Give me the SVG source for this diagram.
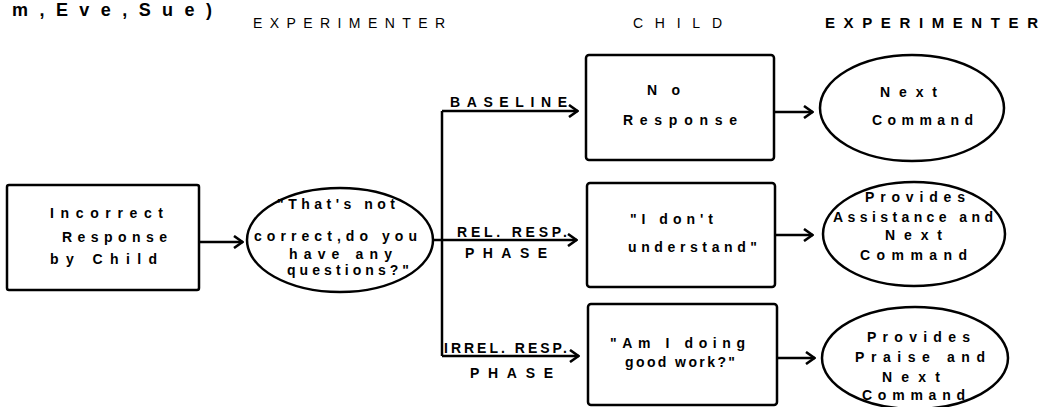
<svg xmlns="http://www.w3.org/2000/svg" width="1040" height="407" viewBox="0 0 1040 407">
<style>
text{font-family:"Liberation Sans",Arial,sans-serif;font-weight:bold;font-size:14px;fill:#000}
.hdr{font-size:14px;font-weight:normal}
.hdrb{font-size:15px}
.big{font-size:18px}
.sh{fill:#fff;stroke:#000;stroke-width:2.5}
.c{fill:none;stroke:#000;stroke-width:2.5}
</style>
<defs>
<marker id="ah" markerUnits="userSpaceOnUse" markerWidth="12" markerHeight="14" viewBox="0 0 12 14" refX="11" refY="7" orient="auto">
<path d="M2,1 L10.5,7 L2,13" fill="none" stroke="#000" stroke-width="2.6"/>
</marker>
</defs>
<rect width="1040" height="407" fill="#fff"/>
<text class="big" x="12" y="16" textLength="200" lengthAdjust="spacing">m,Eve,Sue)</text>
<text class="hdr" x="253" y="28" textLength="192" lengthAdjust="spacing">EXPERIMENTER</text>
<text class="hdr" x="633" y="28" textLength="89" lengthAdjust="spacing">CHILD</text>
<text class="hdrb" x="825" y="28" textLength="213" lengthAdjust="spacing">EXPERIMENTER</text>
<g id="connectors">
<path class="c" d="M199,242 H243" marker-end="url(#ah)"/>
<path class="c" d="M442,111 V356"/>
<path class="c" d="M442,111 H578" marker-end="url(#ah)"/>
<path class="c" d="M433,240 H577" marker-end="url(#ah)"/>
<path class="c" d="M442,356 H579" marker-end="url(#ah)"/>
<path class="c" d="M774,112 H813" marker-end="url(#ah)"/>
<path class="c" d="M775,235 H813" marker-end="url(#ah)"/>
<path class="c" d="M777,358 H815" marker-end="url(#ah)"/>
<text x="450" y="107" textLength="117" lengthAdjust="spacing">BASELINE</text>
<text x="457" y="237" textLength="110" lengthAdjust="spacing">REL. RESP.</text>
<text x="465" y="258" textLength="82" lengthAdjust="spacing">PHASE</text>
<text x="444" y="353" textLength="123" lengthAdjust="spacing">IRREL. RESP.</text>
<text x="470" y="378" textLength="83" lengthAdjust="spacing">PHASE</text>
</g>
<g id="n-incorrect">
<rect class="sh" x="7" y="185" width="192" height="105" rx="2"/>
<text x="50" y="218" textLength="113" lengthAdjust="spacing">Incorrect</text>
<text x="62" y="242" textLength="105" lengthAdjust="spacing">Response</text>
<text x="50" y="264" textLength="107" lengthAdjust="spacing">by Child</text>
</g>
<g id="n-question">
<ellipse class="sh" cx="340" cy="240" rx="93" ry="52"/>
<text x="277" y="209" textLength="118" lengthAdjust="spacing">"That's not</text>
<text x="254" y="241" textLength="163" lengthAdjust="spacing">correct,do you</text>
<text x="289" y="259" textLength="103" lengthAdjust="spacing">have any</text>
<text x="287" y="275" textLength="122" lengthAdjust="spacing">questions?"</text>
</g>
<g id="n-noresp">
<rect class="sh" x="586" y="55" width="188" height="105" rx="3"/>
<text x="647" y="95" textLength="33" lengthAdjust="spacing">No</text>
<text x="623" y="125" textLength="114" lengthAdjust="spacing">Response</text>
</g>
<g id="n-dont">
<rect class="sh" x="587" y="183" width="188" height="104" rx="3"/>
<text x="630" y="224" textLength="83" lengthAdjust="spacing">"I don't</text>
<text x="628" y="252" textLength="129" lengthAdjust="spacing">understand"</text>
</g>
<g id="n-doing">
<rect class="sh" x="588" y="304" width="189" height="101" rx="3"/>
<text x="610" y="348" textLength="135" lengthAdjust="spacing">"Am I doing</text>
<text x="625" y="367" textLength="110" lengthAdjust="spacing">good work?"</text>
</g>
<g id="n-next1">
<ellipse class="sh" cx="912" cy="108" rx="92" ry="53"/>
<text x="880" y="97" textLength="57" lengthAdjust="spacing">Next</text>
<text x="872" y="125" textLength="101" lengthAdjust="spacing">Command</text>
</g>
<g id="n-assist">
<ellipse class="sh" cx="914" cy="234" rx="91" ry="52"/>
<text x="865" y="202" textLength="100" lengthAdjust="spacing">Provides</text>
<text x="833" y="222" textLength="160" lengthAdjust="spacing">Assistance and</text>
<text x="885" y="240" textLength="57" lengthAdjust="spacing">Next</text>
<text x="860" y="260" textLength="107" lengthAdjust="spacing">Command</text>
</g>
<g id="n-praise">
<ellipse class="sh" cx="915" cy="358" rx="93" ry="51"/>
<text x="867" y="342" textLength="103" lengthAdjust="spacing">Provides</text>
<text x="855" y="362" textLength="130" lengthAdjust="spacing">Praise and</text>
<text x="882" y="382" textLength="58" lengthAdjust="spacing">Next</text>
<text x="862" y="400" textLength="103" lengthAdjust="spacing">Command</text>
</g>
</svg>
